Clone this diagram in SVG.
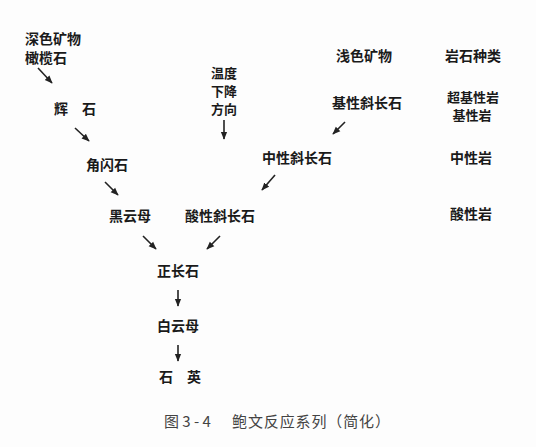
<svg xmlns="http://www.w3.org/2000/svg" width="536" height="447" viewBox="0 0 536 447">
<style>
.t{font-family:"Noto Sans CJK SC","Noto Sans CJK JP",sans-serif;font-size:14px;font-weight:bold;fill:#1a1a1a;text-anchor:middle;dominant-baseline:central}
.s{font-size:13px}
.c{font-family:"Noto Sans CJK SC","Noto Sans CJK JP",sans-serif;font-size:15px;fill:#444;dominant-baseline:central}
.e{stroke:#222;stroke-width:1.6;fill:none;marker-end:url(#a)}
</style>
<defs>
<marker id="a" viewBox="0 0 10 10" refX="9" refY="5" markerWidth="5" markerHeight="5" orient="auto" markerUnits="strokeWidth">
<path d="M0,1 L10,5 L0,9 Z" fill="#222"/>
</marker>
</defs>
<rect width="536" height="447" fill="#fdfdfd"/>
<g id="n-deep"><text class="t" x="53" y="38">深色矿物</text><text class="t" x="46" y="57">橄榄石</text></g>
<g id="n-huishi"><text class="t" x="61" y="108">辉</text><text class="t" x="89" y="108">石</text></g>
<g id="n-jiaoshan"><text class="t" x="107" y="164">角闪石</text></g>
<g id="n-heiyun"><text class="t" x="130" y="215">黑云母</text></g>
<g id="n-zhengchang"><text class="t" x="178" y="270">正长石</text></g>
<g id="n-baiyun"><text class="t" x="178" y="325">白云母</text></g>
<g id="n-shiying"><text class="t" x="166" y="376">石</text><text class="t" x="194" y="376">英</text></g>
<g id="n-temp"><text class="t s" x="224" y="72">温度</text><text class="t s" x="224" y="90">下降</text><text class="t s" x="224" y="108">方向</text></g>
<g id="n-light"><text class="t" x="364" y="55">浅色矿物</text></g>
<g id="n-jixing"><text class="t" x="367" y="102">基性斜长石</text></g>
<g id="n-zhongxing"><text class="t" x="297" y="157">中性斜长石</text></g>
<g id="n-suanxing"><text class="t" x="220" y="215">酸性斜长石</text></g>
<g id="n-rock"><text class="t" x="473" y="55">岩石种类</text><text class="t s" x="473" y="96">超基性岩</text><text class="t s" x="472" y="114">基性岩</text><text class="t" x="471" y="157">中性岩</text><text class="t" x="471" y="213">酸性岩</text></g>
<g id="connectors">
<line class="e" x1="38" y1="68" x2="52" y2="83"/>
<line class="e" x1="75" y1="128" x2="89" y2="141"/>
<line class="e" x1="105" y1="182" x2="118" y2="195"/>
<line class="e" x1="143" y1="236" x2="156" y2="249"/>
<line class="e" x1="178" y1="290" x2="178" y2="306"/>
<line class="e" x1="178" y1="345" x2="178" y2="361"/>
<line class="e" x1="224" y1="120" x2="224" y2="139"/>
<line class="e" x1="345" y1="122" x2="333" y2="134"/>
<line class="e" x1="275" y1="175" x2="262" y2="190"/>
<line class="e" x1="220" y1="236" x2="207" y2="249"/>
</g>
<g id="caption"><text class="c" x="164" y="420">图 3 - 4</text><text class="c" x="232" y="420" textLength="158" lengthAdjust="spacing">鲍文反应系列（简化）</text></g>
</svg>
